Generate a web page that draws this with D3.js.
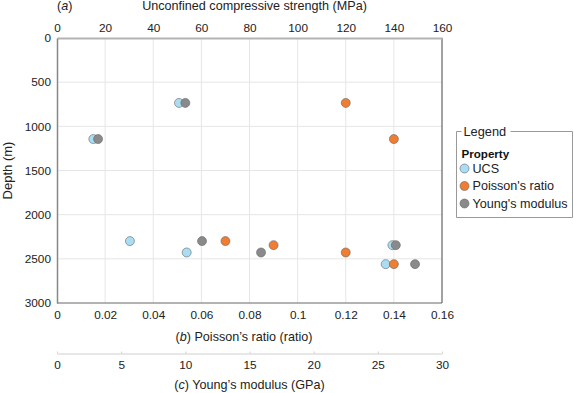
<!DOCTYPE html>
<html>
<head>
<meta charset="utf-8">
<script src="https://cdn.jsdelivr.net/npm/d3@7"></script>
<style>
  body { margin: 0; background: #fff; }
  svg { display: block; font-family: 'Liberation Sans', Arial, sans-serif; }
</style>
</head>
<body>
<div id="chart"></div>
<script>
// depth (m) of each measurement, per property
const ucsDepth = [735, 1144, 2299, 2428, 2345, 2560];
const ucsValue = [50.7, 15.1, 30.3, 53.9, 139.4, 136.6];
const poissonDepth = [735, 1144, 2299, 2345, 2428, 2560];
const poissonValue = [0.12, 0.14, 0.07, 0.09, 0.12, 0.14];
const youngDepth = [735, 1144, 2299, 2428, 2345, 2560];
const youngValue = [10.0, 3.2, 11.3, 15.9, 26.4, 27.9];

const depthTicks = [0, 500, 1000, 1500, 2000, 2500, 3000];
const ucsTicks = [0, 20, 40, 60, 80, 100, 120, 140, 160];
const poissonTicks = [0, 0.02, 0.04, 0.06, 0.08, 0.1, 0.12, 0.14, 0.16];
const youngTicks = [0, 5, 10, 15, 20, 25, 30];

const seriesNames = ['UCS', "Poisson's ratio", "Young's modulus"];
const seriesColors = ['#a9ddf3', '#ef7d32', '#8a8a8a'];

const W = 574, H = 393;
const pLeft = 57, pRight = 442, pTop = 38, pBottom = 303;

const svg = d3.select('#chart').append('svg')
  .attr('width', W).attr('height', H);

const y = d3.scaleLinear().domain([0, 3000]).range([pTop, pBottom]);
const xUcs = d3.scaleLinear().domain([0, 160]).range([pLeft, pRight]);
const xPoi = d3.scaleLinear().domain([0, 0.16]).range([pLeft, pRight]);
const xYoung = d3.scaleLinear().domain([0, 30]).range([pLeft, pRight]);

// grid
svg.append('g').selectAll('line').data(ucsTicks.slice(1, -1)).enter().append('line')
  .attr('x1', d => xUcs(d)).attr('x2', d => xUcs(d))
  .attr('y1', pTop).attr('y2', pBottom)
  .attr('stroke', '#e6e6e6').attr('stroke-width', 1);
svg.append('g').selectAll('line').data(depthTicks.slice(1, -1)).enter().append('line')
  .attr('x1', pLeft).attr('x2', pRight)
  .attr('y1', d => y(d)).attr('y2', d => y(d))
  .attr('stroke', '#e6e6e6').attr('stroke-width', 1);

// frame
svg.append('line').attr('x1', pRight).attr('x2', pRight).attr('y1', pTop).attr('y2', pBottom)
  .attr('stroke', '#444').attr('stroke-width', 1);
svg.append('line').attr('x1', pLeft).attr('x2', pRight).attr('y1', pBottom).attr('y2', pBottom)
  .attr('stroke', '#666').attr('stroke-width', 1);

function style(axis, size) {
  axis.selectAll('text').attr('fill', '#222').attr('font-size', size || '11.8px')
    .attr('font-family', "'Liberation Sans', Arial, sans-serif");
}

// top axis (UCS)
const topAxis = svg.append('g').attr('transform', `translate(0,${pTop})`)
  .call(d3.axisTop(xUcs).tickValues(ucsTicks).tickSize(0).tickPadding(6).tickFormat(d3.format('d')));
topAxis.select('.domain').attr('stroke', '#b3b3b3').attr('stroke-width', 2);
style(topAxis);

// left axis (depth)
const leftAxis = svg.append('g').attr('transform', `translate(${pLeft},0)`)
  .call(d3.axisLeft(y).tickValues(depthTicks).tickSize(0).tickPadding(6).tickFormat(d3.format('d')));
leftAxis.select('.domain').attr('stroke', '#888').attr('stroke-width', 1.5);
style(leftAxis);

// bottom axis (Poisson)
const botAxis = svg.append('g').attr('transform', `translate(0,${pBottom})`)
  .call(d3.axisBottom(xPoi).tickValues(poissonTicks).tickSize(0).tickPadding(8).tickFormat(d => String(d)));
botAxis.select('.domain').remove();
style(botAxis);

// second bottom axis (Young's)
const youngAxis = svg.append('g').attr('transform', 'translate(0,353.5)')
  .call(d3.axisBottom(xYoung).tickValues(youngTicks).tickSizeInner(-2).tickSizeOuter(0).tickPadding(7));
youngAxis.select('.domain').attr('stroke', '#d0d0d0');
youngAxis.selectAll('.tick line').attr('stroke', '#d0d0d0');
style(youngAxis);

// axis titles
const title = (x, yy, parts, anchor) => {
  const t = svg.append('text').attr('x', x).attr('y', yy)
    .attr('text-anchor', anchor || 'middle').attr('font-size', '12.6px').attr('fill', '#222');
  parts.forEach(([s, it]) => t.append('tspan').attr('font-style', it ? 'italic' : 'normal').text(s));
  return t;
};
title(57, 10, [['(', 0], ['a', 1], [')', 0]], 'start');
title(254.5, 10, [['Unconfined compressive strength (MPa)', 0]]);
title(244, 341, [['(', 0], ['b', 1], [')  Poisson\u2019s ratio (ratio)', 0]]);
title(249.5, 389, [['(', 0], ['c', 1], [') Young\u2019s modulus (GPa)', 0]]);
svg.append('text').attr('transform', `translate(12,${(pTop + pBottom) / 2}) rotate(-90)`)
  .attr('text-anchor', 'middle').attr('font-size', '13px').attr('fill', '#222').text('Depth (m)');

// points
const series = [
  { x: xUcs, depth: ucsDepth, value: ucsValue },
  { x: xPoi, depth: poissonDepth, value: poissonValue },
  { x: xYoung, depth: youngDepth, value: youngValue }
];
series.forEach((s, i) => {
  svg.append('g').selectAll('circle').data(s.value).enter().append('circle')
    .attr('cx', d => s.x(d)).attr('cy', (d, j) => y(s.depth[j]))
    .attr('r', 4.5)
    .attr('fill', seriesColors[i]).attr('stroke', '#666').attr('stroke-width', 0.6);
});

// legend
const lg = svg.append('g');
const lx = 456.5, ly = 131.5, lw = 116, lh = 86;
lg.append('path')
  .attr('d', `M${lx + 5},${ly} H${lx} V${ly + lh} H${lx + lw} V${ly} H${lx + 54}`)
  .attr('fill', 'none').attr('stroke', '#999').attr('stroke-width', 1);
lg.append('text').attr('x', lx + 7).attr('y', ly + 4.5).attr('font-size', '12.8px').attr('fill', '#222').text('Legend');
lg.append('text').attr('x', lx + 5).attr('y', ly + 26).attr('font-size', '11.6px').attr('font-weight', 'bold')
  .attr('fill', '#111').text('Property');
seriesNames.forEach((name, i) => {
  const yy = ly + 37 + i * 17.5;
  lg.append('circle').attr('cx', lx + 8).attr('cy', yy).attr('r', 4.5)
    .attr('fill', seriesColors[i]).attr('stroke', '#666').attr('stroke-width', 0.6);
  lg.append('text').attr('x', lx + 16).attr('y', yy + 4.3).attr('font-size', '12.6px').attr('fill', '#222').text(name);
});
</script>
</body>
</html>
